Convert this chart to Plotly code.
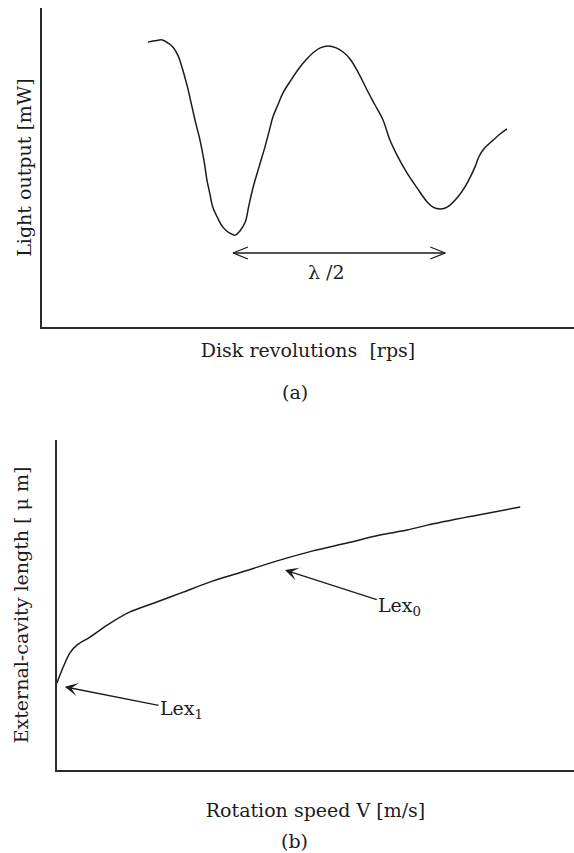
import plotly.graph_objects as go

W, H = 574, 853

# (a) light output vs disk revolutions (arbitrary units, 0-100 on both axes)
rev_a = [19.9, 21.2, 22.6, 23.7, 24.6, 25.6, 26.3, 27.3, 28.2, 28.9, 29.7, 30.5, 31.0,
         31.6, 32.1, 33.1, 34.0, 35.2, 36.3, 37.2, 38.2, 38.9, 39.7, 40.8, 41.9, 42.7,
         43.4, 44.4, 45.3, 46.8, 48.5, 49.6, 50.9, 52.3, 53.8, 55.3, 56.6, 57.9, 59.4,
         61.1, 62.6, 64.1, 65.4, 66.9, 68.6, 70.5, 72.4, 73.5, 74.8, 75.8, 76.7, 78.2,
         79.5, 80.5, 81.4, 82.1, 82.9, 83.8, 84.8, 86.1, 87.4]
power_a = [89.3, 89.7, 90.0, 89.0, 87.8, 85.0, 81.5, 75.5, 69.0, 63.9, 58.6, 51.7, 46.1,
           41.4, 37.6, 33.9, 31.3, 29.5, 28.8, 30.1, 32.9, 38.2, 43.9, 50.2, 56.4, 61.4,
           65.8, 69.9, 73.4, 77.4, 81.5, 83.7, 85.9, 87.5, 88.1, 87.5, 86.2, 84.0, 79.9,
           74.3, 69.6, 64.9, 58.6, 53.3, 48.3, 43.6, 39.2, 37.6, 37.0, 37.3, 38.2, 40.8,
           43.9, 47.0, 50.2, 53.3, 55.5, 57.1, 58.6, 60.5, 62.1]

# half-wavelength span between the two minima
lam_start, lam_end, lam_level = 35.9, 75.8, 23.2
lam_label_x = 53.4

# (b) external-cavity length vs rotation speed (arbitrary units)
speed_b = [0.0, 1.2, 2.5, 3.9, 6.4, 9.7, 14.1, 19.3, 24.4, 30.2, 36.4, 43.1, 49.5,
           56.1, 62.5, 67.7, 71.6, 80.5, 89.6]
length_b = [26.4, 31.2, 35.5, 37.9, 40.3, 43.9, 47.9, 50.9, 53.9, 57.3, 60.3, 63.6, 66.4,
            68.8, 71.2, 72.7, 74.2, 77.0, 79.7]

# pointer arrows: tip on the curve, label centre at the tail
lex0_tip, lex0_label = (44.1, 60.6), (66.3, 49.4)
lex1_tip, lex1_label = (1.5, 25.2), (24.1, 18.2)

INK = "#1c1c1c"
FONT = dict(family="DejaVu Serif, Liberation Serif, serif", size=19, color=INK)

# plot-area placement in pixels
A_LEFT, A_TOP, A_BOTTOM = 42, 8, 327
B_LEFT, B_TOP, B_BOTTOM = 57, 440, 770


def px(x):
    return x / W


def py(y):
    return 1 - y / H


fig = go.Figure()

fig.add_trace(go.Scatter(x=rev_a, y=power_a, mode="lines",
                         line=dict(color=INK, width=1.5, shape="spline", smoothing=1.0),
                         xaxis="x", yaxis="y", hoverinfo="skip", showlegend=False))

fig.add_trace(go.Scatter(x=speed_b, y=length_b, mode="lines",
                         line=dict(color=INK, width=1.5, shape="spline", smoothing=0.8),
                         xaxis="x2", yaxis="y2", hoverinfo="skip", showlegend=False))

# double-headed open arrow for lambda/2
ux = (W - A_LEFT) / 100.0   # px per x unit
uy = (A_BOTTOM - A_TOP) / 100.0  # px per y unit
head_len, head_half = 15 / ux, 6 / uy
ax_pts, ay_pts = [lam_start, lam_end, None], [lam_level, lam_level, None]
for tip, sgn in ((lam_start, 1), (lam_end, -1)):
    ax_pts += [tip + sgn * head_len, tip, tip + sgn * head_len, None]
    ay_pts += [lam_level + head_half, lam_level, lam_level - head_half, None]
fig.add_trace(go.Scatter(x=ax_pts, y=ay_pts, mode="lines",
                         line=dict(color=INK, width=1.3),
                         xaxis="x", yaxis="y", hoverinfo="skip", showlegend=False))

axis_common = dict(showgrid=False, zeroline=False, showticklabels=False, ticks="",
                   showline=True, linecolor="#2a2a2a", linewidth=1.6, range=[0, 100],
                   fixedrange=True, automargin=False)


def title(text, standoff):
    return dict(text=text, font=FONT, standoff=standoff)


fig.update_layout(
    width=W, height=H, autosize=False,
    margin=dict(l=0, r=0, t=0, b=0),
    paper_bgcolor="white", plot_bgcolor="white",
    font=FONT,
    xaxis=dict(domain=[px(A_LEFT), 1.0], anchor="y",
               title=title("Disk revolutions&nbsp;&nbsp;[rps]", 16), **axis_common),
    yaxis=dict(domain=[py(A_BOTTOM), py(A_TOP)], anchor="x",
               title=title("Light output [mW]", 4), **axis_common),
    xaxis2=dict(domain=[px(B_LEFT), 1.0], anchor="y2",
                title=title("Rotation speed V [m/s]", 33), **axis_common),
    yaxis2=dict(domain=[py(B_BOTTOM), py(B_TOP)], anchor="x2",
                title=title("External-cavity length [ μ m]", 22), **axis_common),
)

ann = []


def label(text, x, y):
    ann.append(dict(text=text, x=px(x), y=py(y), xref="paper", yref="paper",
                    showarrow=False, xanchor="center", yanchor="middle", font=FONT))


label("(a)", 295, 392)
label("(b)", 294, 841)

ann.append(dict(text="λ /2", x=lam_label_x, y=lam_level, xref="x", yref="y",
                showarrow=False, yshift=-19, font=FONT))

for tip, lab, name in ((lex0_tip, lex0_label, "Lex<sub>0</sub>"),
                       (lex1_tip, lex1_label, "Lex<sub>1</sub>")):
    ann.append(dict(x=tip[0], y=tip[1], ax=lab[0], ay=lab[1], xref="x2", yref="y2",
                    axref="x2", ayref="y2", text=name, showarrow=True, arrowhead=3,
                    arrowsize=1.7, arrowwidth=1.3, arrowcolor=INK, standoff=0,
                    font=FONT))

fig.update_layout(annotations=ann)

fig.write_html("out.html")
